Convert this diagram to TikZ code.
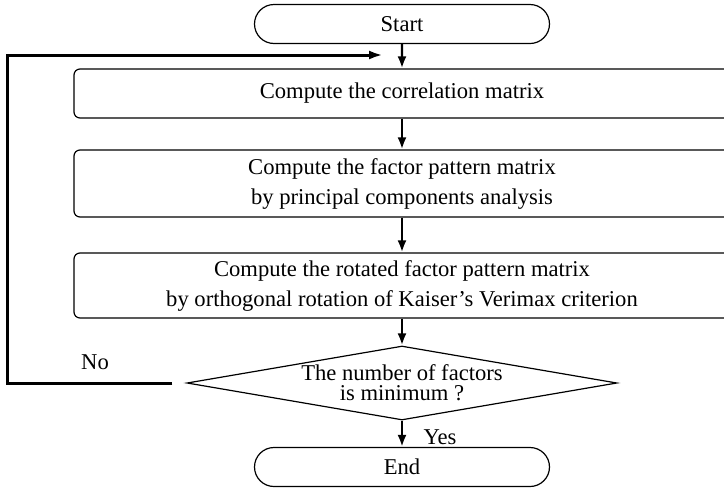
\documentclass[tikz,border=0pt]{standalone}
\usepackage{fontspec}
\setmainfont{Liberation Serif}
\usetikzlibrary{shapes.geometric,shapes.misc,arrows.meta}
\tikzset{
  term/.style={rounded rectangle,draw,line width=0.6pt,minimum width=147.5pt,minimum height=19.5pt,inner sep=0pt},
  proc/.style={draw,rounded corners=3pt,line width=0.6pt,minimum width=328pt,align=center,inner sep=0pt},
  decide/.style={diamond,draw,line width=0.6pt,minimum width=215pt,minimum height=37pt,inner sep=0pt},
  flow/.style={line width=1.2pt,-{Latex[length=6pt,width=4.5pt]}},
  backline/.style={line width=1.5pt,-{Latex[length=7pt,width=4.5pt]}}
}
\begin{document}
\begin{tikzpicture}[x=0.5pt,y=-0.5pt,font=\fontsize{11.3}{15}\selectfont]
\useasboundingbox (0,0) rectangle (724,488);
\node[term] (start) at (402,24) {Start};
\node[proc,minimum height=24.5pt] (corr) at (402,93.5) {Compute the correlation matrix};
\node[proc,minimum height=33.5pt] (pattern) at (402,183.5) {Compute the factor pattern matrix\\by principal components analysis};
\node[proc,minimum height=32.5pt] (rotated) at (402,285.5) {Compute the rotated factor pattern matrix\\by orthogonal rotation of Kaiser's Verimax criterion};
\node[decide,label={[align=center,font=\fontsize{11.3}{10}\selectfont,inner sep=0pt]center:The number of factors\\is minimum ?}] (cond) at (402,383) {};
\node[term] (finish) at (402,467) {End};
\node (yes) at (440,437) {Yes};
\node (no) at (95,362) {No};
\coordinate (back) at (7,55);
\coordinate (into) at (383,55);
\draw[flow] (start) -- (corr);
\draw[flow] (corr) -- (pattern);
\draw[flow] (pattern) -- (rotated);
\draw[flow] (rotated) -- (cond);
\draw[flow] (cond) -- (finish);
\draw[backline] ([xshift=-7pt]cond.west) -| (back) -- (into);
\end{tikzpicture}
\end{document}
